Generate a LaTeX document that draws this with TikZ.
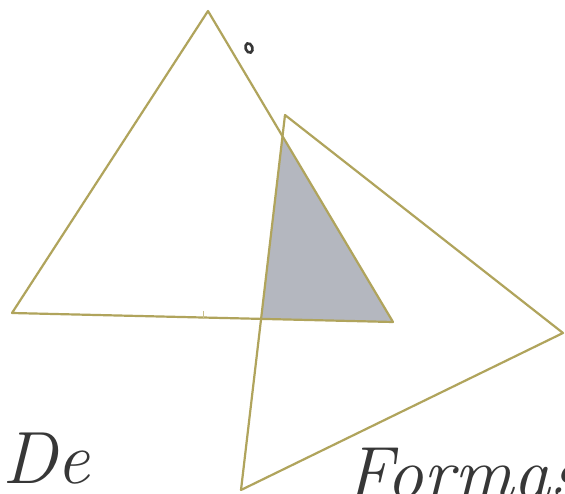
\documentclass[tikz,border=0pt]{standalone}
\definecolor{olivepen}{RGB}{176,164,92}
\definecolor{graylead}{RGB}{180,183,191}
\definecolor{ink}{RGB}{55,55,55}
\begin{document}
\begin{tikzpicture}[x=1pt,y=-1pt,
  edge/.style={draw=olivepen, line width=2.2pt, line join=round, line cap=round},
  script/.style={anchor=base west, inner sep=0pt, text=ink, font=\fontsize{74}{74}\selectfont\itshape}]
\useasboundingbox (0,0) rectangle (565,494);
\clip (0,0) rectangle (565,494);
\fill[white] (0,0) rectangle (565,494);
\coordinate (A1) at (208,11);
\coordinate (B1) at (12,313);
\coordinate (C1) at (393,322);
\coordinate (A2) at (285,115);
\coordinate (B2) at (241,490);
\coordinate (C2) at (563,333);
\coordinate (P) at (intersection of A2--B2 and A1--C1);
\coordinate (Q) at (intersection of A2--B2 and B1--C1);
\fill[graylead] (P) -- (Q) -- (C1) -- cycle;
\draw[edge] (A1) -- (B1) -- (C1) -- cycle;
\draw[edge] (A2) -- (B2) -- (C2) -- cycle;
\coordinate (T1) at (203,311);
\coordinate (T2) at (203,319);
\draw[olivepen!70, line width=0.8pt] (T1) -- (T2);
\draw[ink, line width=2.6pt, rotate around={20:(249,48)}] (249,48) ellipse (3.4 and 4.8);
\node[script] (de) at (2,483) {De};
\node[script] (formas) at (345,498) {Formas};
\end{tikzpicture}
\end{document}
